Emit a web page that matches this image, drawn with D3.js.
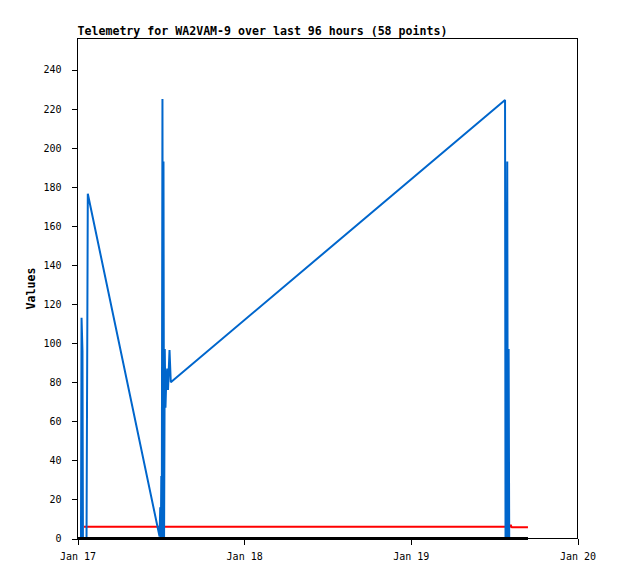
<!DOCTYPE html>
<html>
<head>
<meta charset="utf-8">
<script src="https://cdn.jsdelivr.net/npm/d3@7"></script>
<style>
  body { margin: 0; background: #fff; }
  svg text { font-family: "DejaVu Sans Mono", monospace; }
</style>
</head>
<body>
<svg width="618" height="579"></svg>
<script>
var titleText = "Telemetry for WA2VAM-9 over last 96 hours (58 points)";
var yLabel = "Values";

// blue channel (time, value)
var blueTimes = ["2024-01-17T00:30", "2024-01-17T00:35", "2024-01-17T00:43", "2024-01-17T00:47",
  "2024-01-17T01:18", "2024-01-17T01:22", "2024-01-17T01:29",
  "2024-01-17T11:49", "2024-01-17T11:55", "2024-01-17T12:00", "2024-01-17T12:04", "2024-01-17T12:08",
  "2024-01-17T12:14", "2024-01-17T12:19", "2024-01-17T12:23", "2024-01-17T12:28", "2024-01-17T12:34",
  "2024-01-17T12:40", "2024-01-17T12:47", "2024-01-17T12:55", "2024-01-17T13:02", "2024-01-17T13:15",
  "2024-01-17T13:26",
  "2024-01-19T13:34", "2024-01-19T13:38", "2024-01-19T13:42", "2024-01-19T13:47", "2024-01-19T13:53",
  "2024-01-19T13:58", "2024-01-19T14:05", "2024-01-19T14:10", "2024-01-19T16:52"];
var blueValues = [0, 113, 96, 0,
  0, 64, 176.5,
  1, 16, 0, 32, 0,
  225, 0, 193, 0, 97,
  67, 81, 87, 76, 96.5,
  80,
  224.5, 0, 32, 0, 193,
  0, 97, 0, 0];

// red channel
var redTimes = ["2024-01-17T00:56", "2024-01-19T14:19", "2024-01-19T14:23", "2024-01-19T14:30", "2024-01-19T16:52"];
var redValues = [6, 6, 7, 5.8, 5.8];

// black channel
var blackTimes = ["2024-01-17T00:00", "2024-01-19T16:52"];
var blackValues = [0, 0];

var xTicks = ["2024-01-17", "2024-01-18", "2024-01-19", "2024-01-20"];
var yTicks = [0, 20, 40, 60, 80, 100, 120, 140, 160, 180, 200, 220, 240];

var parseT = d3.timeParse("%Y-%m-%dT%H:%M");
var parseD = d3.timeParse("%Y-%m-%d");

var svg = d3.select("svg");
var pLeft = 77.5, pRight = 577.5, pTop = 38.5, pBottom = 538.5;

var x = d3.scaleTime().domain([parseD(xTicks[0]), parseD(xTicks[xTicks.length - 1])]).range([pLeft, pRight]);
var y = d3.scaleLinear().domain([0, 256]).range([pBottom, pTop]);

function pairs(times, vals) {
    return times.map(function(t, i) { return {t: parseT(t), v: vals[i]}; });
}

var line = d3.line()
    .x(function(d) { return x(d.t); })
    .y(function(d) { return y(d.v); });

svg.append("defs").append("clipPath").attr("id", "clip")
    .append("rect").attr("x", pLeft).attr("y", pTop).attr("width", pRight - pLeft).attr("height", pBottom - pTop + 2);

var plot = svg.append("g").attr("clip-path", "url(#clip)");

[[redTimes, redValues, "#ff0000", 2], [blueTimes, blueValues, "#0066cc", 2], [blackTimes, blackValues, "#000000", 3]].forEach(function(s) {
    plot.append("path")
        .datum(pairs(s[0], s[1]))
        .attr("d", line)
        .attr("fill", "none")
        .attr("stroke", s[2])
        .attr("stroke-width", s[3])
        .attr("stroke-linejoin", "bevel");
});

// frame
svg.append("rect")
    .attr("x", pLeft).attr("y", pTop).attr("width", pRight - pLeft).attr("height", pBottom - pTop)
    .attr("fill", "none").attr("stroke", "#000").attr("stroke-width", 1)
    .attr("shape-rendering", "crispEdges");

var yAxis = svg.append("g").attr("transform", "translate(" + pLeft + ",0)")
    .call(d3.axisLeft(y).tickValues(yTicks).tickSize(6).tickPadding(10).tickFormat(d3.format("d")));
var xAxis = svg.append("g").attr("transform", "translate(0," + pBottom + ")")
    .call(d3.axisBottom(x).tickValues(xTicks.map(parseD)).tickSize(6).tickPadding(8).tickFormat(d3.timeFormat("%b %d")));

[yAxis, xAxis].forEach(function(a) {
    a.select(".domain").remove();
    a.selectAll("text").style("font-family", "DejaVu Sans Mono, monospace").style("font-size", "10px").attr("fill", "#000");
    a.selectAll("line").attr("stroke", "#000").attr("shape-rendering", "crispEdges");
});

svg.append("text")
    .attr("x", pLeft).attr("y", 35)
    .style("font-size", "11.6px").style("font-weight", "bold")
    .text(titleText);

svg.append("text")
    .attr("transform", "translate(35," + ((pTop + pBottom) / 2) + ") rotate(-90)")
    .attr("text-anchor", "middle")
    .style("font-size", "11.6px").style("font-weight", "bold")
    .text(yLabel);
</script>
</body>
</html>
